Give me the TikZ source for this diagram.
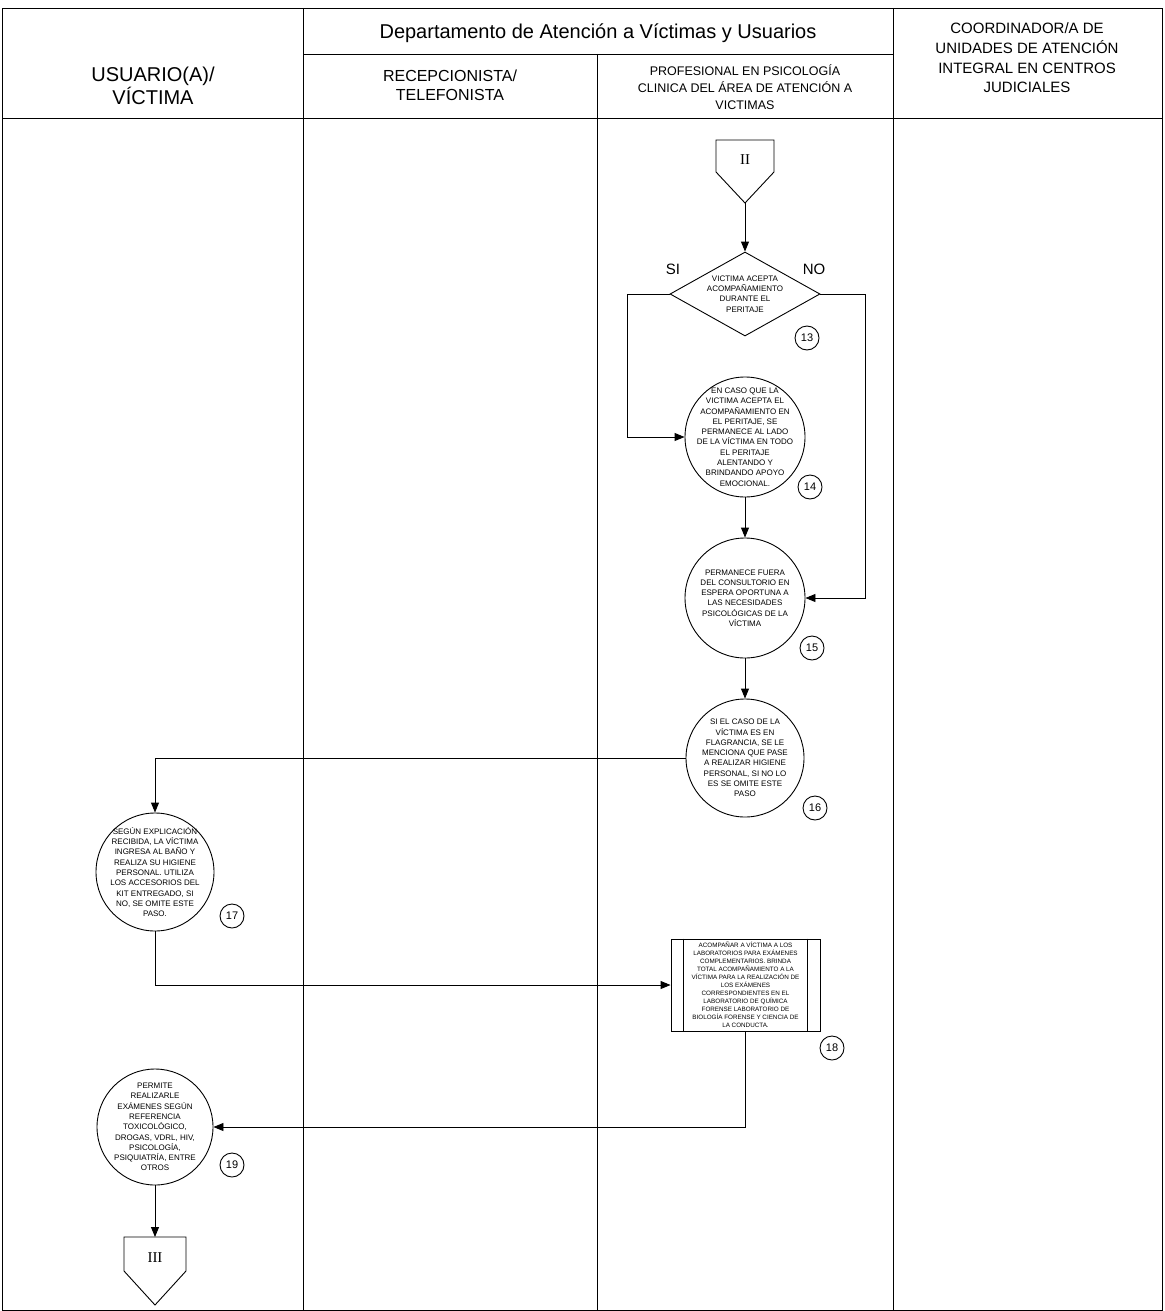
\documentclass[tikz,border=0pt]{standalone}
\usepackage{fontspec}
\setmainfont{Liberation Sans}
\newfontfamily\serifnum{Liberation Serif}
\usetikzlibrary{arrows.meta,shapes.geometric}
\begin{document}
\begin{tikzpicture}[x=1pt,y=-1pt,line width=0.9pt,
  arr/.style={-{Triangle[length=10pt,width=8pt]}},
  bigc/.style={circle,draw,minimum size=#1,inner sep=0pt},
  ctext/.style={align=center,font=\fontsize{8}{10.3}\selectfont,inner sep=0pt},
  num/.style={circle,draw,minimum size=24pt,inner sep=0pt,font=\fontsize{11}{11}\selectfont},
  hdr/.style={align=center,inner sep=0pt},
  offpage/.style={font=\serifnum\fontsize{15}{15}\selectfont,inner sep=0pt},
  lbl/.style={font=\fontsize{15}{15}\selectfont,inner sep=0pt}]
\useasboundingbox (0,0) rectangle (1164,1311);
% frame and lanes
\draw (2,8) rectangle (1162,1310);
\draw (2,118) -- (1162,118);
\draw (303,8) -- (303,1310);
\draw (893,8) -- (893,1310);
\draw (303,54) -- (893,54);
\draw (597,54) -- (597,1310);
% headers
\node[hdr,font=\fontsize{20}{20}\selectfont] (hU) at (153,86) {USUARIO(A)/\\VÍCTIMA};
\node[hdr,font=\fontsize{20}{20}\selectfont] (hD) at (598,33) {Departamento de Atención a Víctimas y Usuarios};
\node[hdr,font=\fontsize{16}{19}\selectfont] (hR) at (450,85) {RECEPCIONISTA/\\TELEFONISTA};
\node[hdr,font=\fontsize{12.5}{17}\selectfont] (hP) at (745,87) {PROFESIONAL EN PSICOLOGÍA\\CLINICA DEL ÁREA DE ATENCIÓN A\\VICTIMAS};
\node[hdr,font=\fontsize{15}{19.7}\selectfont] (hC) at (1027,58) {COORDINADOR/A DE\\UNIDADES DE ATENCIÓN\\INTEGRAL EN CENTROS\\JUDICIALES};
% off-page connector II
\draw (716,140) -- (774,140) -- (774,172) -- (745,203) -- (716,172) -- cycle;
\node[offpage] (II) at (745,160) {II};
\coordinate (IItip) at (745,203);
% decision 13
\node[diamond,draw,aspect=1.8,minimum width=150pt,minimum height=84pt,ctext] (d13) at (745,294)
  {VICTIMA ACEPTA\\ACOMPAÑAMIENTO\\DURANTE EL\\PERITAJE};
\node[lbl] (si) at (673,269) {SI};
\node[lbl] (no) at (814,269) {NO};
\node[num] (n13) at (807,338) {13};
\draw[arr] (IItip) -- (d13.north);
% 14
\node[bigc=120pt] (c14) at (745,437) {};
\node[ctext] (t14) at (c14) {EN CASO QUE LA\\VICTIMA ACEPTA EL\\ACOMPAÑAMIENTO EN\\EL PERITAJE, SE\\PERMANECE AL LADO\\DE LA VÍCTIMA EN TODO\\EL PERITAJE\\ALENTANDO Y\\BRINDANDO APOYO\\EMOCIONAL.};
\node[num] (n14) at (810,487) {14};
% 15
\node[bigc=120pt] (c15) at (745,598) {};
\node[ctext] (t15) at (c15) {PERMANECE FUERA\\DEL CONSULTORIO EN\\ESPERA OPORTUNA A\\LAS NECESIDADES\\PSICOLÓGICAS DE LA\\VÍCTIMA};
\node[num] (n15) at (812,648) {15};
% 16
\node[bigc=118pt] (c16) at (745,758) {};
\node[ctext] (t16) at (c16) {SI EL CASO DE LA\\VÍCTIMA ES EN\\FLAGRANCIA, SE LE\\MENCIONA QUE PASE\\A REALIZAR HIGIENE\\PERSONAL, SI NO LO\\ES SE OMITE ESTE\\PASO};
\node[num] (n16) at (815,808) {16};
% 17
\node[bigc=118pt] (c17) at (155,872) {};
\node[ctext] (t17) at (c17) {SEGÚN EXPLICACIÓN\\RECIBIDA, LA VÍCTIMA\\INGRESA AL BAÑO Y\\REALIZA SU HIGIENE\\PERSONAL. UTILIZA\\LOS ACCESORIOS DEL\\KIT ENTREGADO, SI\\NO, SE OMITE ESTE\\PASO.};
\node[num] (n17) at (232,916) {17};
% 18
\node[draw,minimum width=149pt,minimum height=92pt,inner sep=0pt,align=center,font=\fontsize{6.3}{8}\selectfont] (b18) at (745.5,985)
  {ACOMPAÑAR A VÍCTIMA A LOS\\LABORATORIOS PARA EXÁMENES\\COMPLEMENTARIOS. BRINDA\\TOTAL ACOMPAÑAMIENTO A LA\\VÍCTIMA PARA LA REALIZACIÓN DE\\LOS EXÁMENES\\CORRESPONDIENTES EN EL\\LABORATORIO DE QUÍMICA\\FORENSE LABORATORIO DE\\BIOLOGÍA FORENSE Y CIENCIA DE\\LA CONDUCTA.};
\draw ([xshift=13pt]b18.north west) -- ([xshift=13pt]b18.south west);
\draw ([xshift=-13pt]b18.north east) -- ([xshift=-13pt]b18.south east);
\node[num] (n18) at (832,1048) {18};
% 19
\node[bigc=116pt] (c19) at (155,1127) {};
\node[ctext] (t19) at (c19) {PERMITE\\REALIZARLE\\EXÁMENES SEGÚN\\REFERENCIA\\TOXICOLÓGICO,\\DROGAS, VDRL, HIV,\\PSICOLOGÍA,\\PSIQUIATRÍA, ENTRE\\OTROS};
\node[num] (n19) at (232,1165) {19};
% off-page connector III
\draw (124,1237) -- (186,1237) -- (186,1271) -- (155,1305) -- (124,1271) -- cycle;
\node[offpage] (III) at (155,1258) {III};
\coordinate (IIItop) at (155,1237);
% connectors
\coordinate (k1) at (627,294);
\coordinate (k2) at (865,294);
\draw[arr] (d13.west) -- (k1) |- (c14.west);
\draw[arr] (d13.east) -- (k2) |- (c15.east);
\draw[arr] (c14.south) -- (c15.north);
\draw[arr] (c15.south) -- (c16.north);
\draw[arr] (c16.west) -| (c17.north);
\draw[arr] (c17.south) |- (b18.west);
\draw[arr] (b18.south) |- (c19.east);
\draw[arr] (c19.south) -- (IIItop);
\end{tikzpicture}
\end{document}
